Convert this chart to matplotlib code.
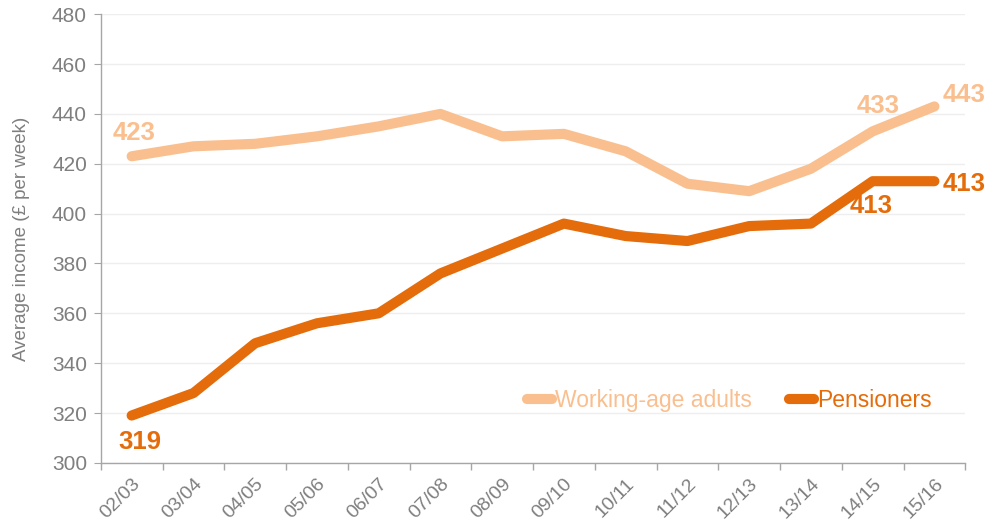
import matplotlib
matplotlib.use("Agg")
import matplotlib.pyplot as plt
import numpy as np

plt.rcParams["font.family"] = ["Liberation Sans", "DejaVu Sans"]

years = ["02/03", "03/04", "04/05", "05/06", "06/07", "07/08", "08/09",
         "09/10", "10/11", "11/12", "12/13", "13/14", "14/15", "15/16"]
working_age = [423, 427, 428, 431, 435, 440, 431, 432, 425, 412, 409, 418, 433, 443]
pensioners = [319, 328, 348, 356, 360, 376, 386, 396, 391, 389, 395, 396, 413, 413]

LIGHT = "#FABF8F"
DARK = "#E46C0A"
GREY = "#7F7F7F"
AXIS = "#A6A6A6"

fig = plt.figure(figsize=(9.88, 5.26), dpi=100)
ax = fig.add_axes([0.102, 0.12, 0.875, 0.853])

x = np.arange(len(years))
ax.plot(x, working_age, color=LIGHT, lw=7.3, solid_capstyle="round",
        solid_joinstyle="round", label="Working-age adults", zorder=3)
ax.plot(x, pensioners, color=DARK, lw=7.3, solid_capstyle="round",
        solid_joinstyle="round", label="Pensioners", zorder=3)

ax.set_xlim(-0.5, len(years) - 0.5)
ax.set_ylim(300, 480)
ax.set_yticks(np.arange(300, 481, 20))
ax.set_xticks(x)
ax.set_xticklabels(years, rotation=45, ha="right", rotation_mode="anchor")
ax.set_xticks(np.arange(-0.5, len(years), 1), minor=True)
ax.tick_params(axis="x", which="major", length=0, pad=9, labelsize=14, labelcolor=GREY)
ax.tick_params(axis="x", which="minor", length=5, color=AXIS, width=1)
ax.tick_params(axis="y", length=5, color=AXIS, labelsize=15, labelcolor=GREY, pad=5)

ax.grid(axis="y", color="#EEEEEE", lw=1)
ax.set_axisbelow(True)
for s in ("top", "right"):
    ax.spines[s].set_visible(False)
for s in ("left", "bottom"):
    ax.spines[s].set_color(AXIS)
    ax.spines[s].set_linewidth(1)

ax.set_ylabel("Average income (£ per week)", fontsize=13.5, color=GREY, labelpad=16)

# value labels
def lab(i, series, txt_col, dx, dy, ha="center"):
    ax.annotate(str(series[i]), (x[i], series[i]), xytext=(dx, dy),
                textcoords="offset points", ha=ha, va="center",
                fontsize=18.5, fontweight="bold", color=txt_col)

lab(0, working_age, LIGHT, 2, 17)
lab(0, pensioners, DARK, 6, -19)
lab(12, working_age, LIGHT, 4, 18)
lab(13, working_age, LIGHT, 6, 8, ha="left")
lab(12, pensioners, DARK, -1, -18)
lab(13, pensioners, DARK, 6, -2, ha="left")

ax.legend(loc="center", bbox_to_anchor=(0.727, 0.138), ncol=2, frameon=False,
          handlelength=1.1, handletextpad=0.15, columnspacing=1.6,
          fontsize=16.5, labelcolor="linecolor")

fig.savefig("out.png", dpi=100)
